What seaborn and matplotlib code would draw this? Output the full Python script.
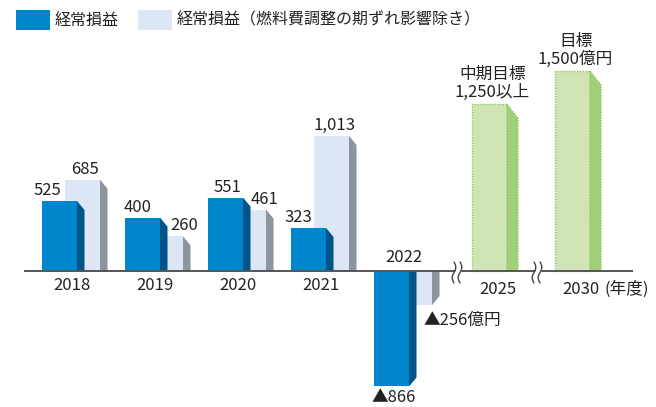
import numpy as np
import pandas as pd
import matplotlib
matplotlib.use('Agg')
import matplotlib.pyplot as plt
from matplotlib.patches import Polygon, Rectangle
import seaborn as sns

# data (億円)
years = ['2018', '2019', '2020', '2021', '2022']
ordinary = [525, 400, 551, 323, -866]
ordinary_adj = [685, 260, 461, 1013, -256]
target_years = ['2025', '2030']
targets = [1250, 1500]
target_notes = ['中期目標\n1,250以上', '目標\n1,500億円']
legend_labels = ['経常損益', '経常損益（燃料費調整の期ずれ影響除き）']

sns.set_theme(style='white')
plt.rcParams['font.family'] = ['Noto Sans CJK JP', 'DejaVu Sans']

BLUE, BLUE_SIDE = '#0086cc', '#005487'
LIGHT, LIGHT_SIDE = '#dce6f5', '#8c94a0'
GREEN, GREEN_SIDE, GREEN_EDGE = '#d0e4b6', '#a3cf7b', '#8cc85a'
TXT = '#222222'

# layout in pixels: x axis = pixel columns, y axis = value (0 at pixel row 271)
S = 0.13333          # pixels per 億円
BASE = 271
def py(p):
    return (BASE - p) / S

fig = plt.figure(figsize=(6.56, 4.07), dpi=100)
ax = fig.add_axes([0, 0, 1, 1])

step, w = 83, 35
blue_x = [59.5 + step * i for i in range(len(years))]
light_x = [x + 23 for x in blue_x]
green_x = [489.5, 572.5]

df_b = pd.DataFrame({'x': blue_x, 'v': ordinary})
df_l = pd.DataFrame({'x': light_x, 'v': ordinary_adj})
df_g = pd.DataFrame({'x': green_x, 'v': targets})

sns.barplot(data=df_l, x='x', y='v', native_scale=True, width=w / step,
            color=LIGHT, saturation=1, errorbar=None, linewidth=0,
            zorder=1, ax=ax)
sns.barplot(data=df_b, x='x', y='v', native_scale=True, width=w / step,
            color=BLUE, saturation=1, errorbar=None, linewidth=0,
            zorder=3, ax=ax)
sns.barplot(data=df_g, x='x', y='v', native_scale=True, width=w / step,
            color=GREEN, saturation=1, errorbar=None, linewidth=1,
            edgecolor=GREEN_EDGE, linestyle=(0, (1, 1)), zorder=1, ax=ax)


def side(xc, v, depth, drop, color, z, edge=None):
    xr = xc + w / 2
    d = drop / S
    top = v - d if v > 0 else v + d
    pts = [(xr, 0), (xr, v), (xr + depth, top), (xr + depth, 0)]
    if edge:
        poly = Polygon(pts, closed=True, facecolor=color, zorder=z,
                       edgecolor=edge, linewidth=1, linestyle=(0, (1, 1)))
    else:
        poly = Polygon(pts, closed=True, facecolor=color, zorder=z,
                       edgecolor='none', linewidth=0)
    ax.add_patch(poly)


for xc, v in zip(light_x, ordinary_adj):
    side(xc, v, 7.5, 9, LIGHT_SIDE, 2)
for xc, v in zip(blue_x, ordinary):
    side(xc, v, 7.5, 9, BLUE_SIDE, 4)
for xc, v in zip(green_x, targets):
    side(xc, v, 11, 14, GREEN_SIDE, 2, GREEN_EDGE)

# baseline
ax.plot([24, 633], [0, 0], color='#555555', lw=1.4, zorder=5,
        solid_capstyle='butt')

# break marks
for bx in [457, 537]:
    yy = np.linspace(262, 283, 40)
    wave = 1.8 * np.sin(2 * np.pi * (yy - 262) / 21)
    ax.fill_betweenx(py(yy), bx - 3 + wave, bx + 3 + wave, color='white',
                     zorder=6, lw=0)
    for off in [-3, 3]:
        ax.plot(bx + off + wave, py(yy), color='#444444', lw=1, zorder=7)

fs = 12
# value labels
blue_dx = [-12.5, -4.5, 1.5, -10.5, 2.5]
light_dx = [3, 19, 16, 3, 0]
for xc, v, dx in zip(blue_x, ordinary, blue_dx):
    if v >= 0:
        ax.text(xc + dx, v + 2 / S, f'{v:,}', ha='center', va='bottom',
                fontsize=fs, color=TXT, zorder=8)
    else:
        ax.text(xc + dx, v - 3 / S, f'▲{-v:,}', ha='center', va='top',
                fontsize=fs, color=TXT, zorder=8)
for xc, v, dx in zip(light_x, ordinary_adj, light_dx):
    if v >= 0:
        ax.text(xc + dx, v + 2 / S, f'{v:,}', ha='center', va='bottom',
                fontsize=fs, color=TXT, zorder=8)
    else:
        ax.text(424, v - 7 / S, f'▲{-v:,}億円', ha='left', va='top',
                fontsize=fs, color=TXT, zorder=8)

for xc, v, note in zip(green_x, targets, target_notes):
    ax.text(xc + 3, v + 3 / S, note, ha='center', va='bottom', fontsize=fs,
            color=TXT, linespacing=1.1, zorder=8)

# year labels
for i, yr in enumerate(years):
    if ordinary[i] >= 0:
        ax.text(blue_x[i] + 12, py(285), yr, ha='center', va='center',
                fontsize=fs, color=TXT)
    else:
        ax.text(blue_x[i] + 12, py(257), yr, ha='center', va='center',
                fontsize=fs, color=TXT)
ax.text(green_x[0] + 8, py(289), target_years[0], ha='center', va='center',
        fontsize=fs, color=TXT)
ax.text(581, py(289), target_years[1], ha='center', va='center',
        fontsize=fs, color=TXT)
ax.text(604, py(289), '(年度)', ha='left', va='center', fontsize=fs,
        color=TXT)

# legend
ax.add_patch(Rectangle((16, py(30)), 34, 20 / S, facecolor=BLUE, lw=0,
                       zorder=8))
ax.text(55, py(20), legend_labels[0], ha='left', va='center', fontsize=11.5,
        color=TXT)
ax.add_patch(Rectangle((138, py(30)), 34, 20 / S, facecolor=LIGHT, lw=0,
                       zorder=8))
ax.text(177, py(20), legend_labels[1], ha='left', va='center', fontsize=11.5,
        color=TXT)

ax.set_xlim(0, 656)
ax.set_ylim(py(407), py(0))
ax.axis('off')

plt.savefig('out.png', dpi=100)
plt.close()
